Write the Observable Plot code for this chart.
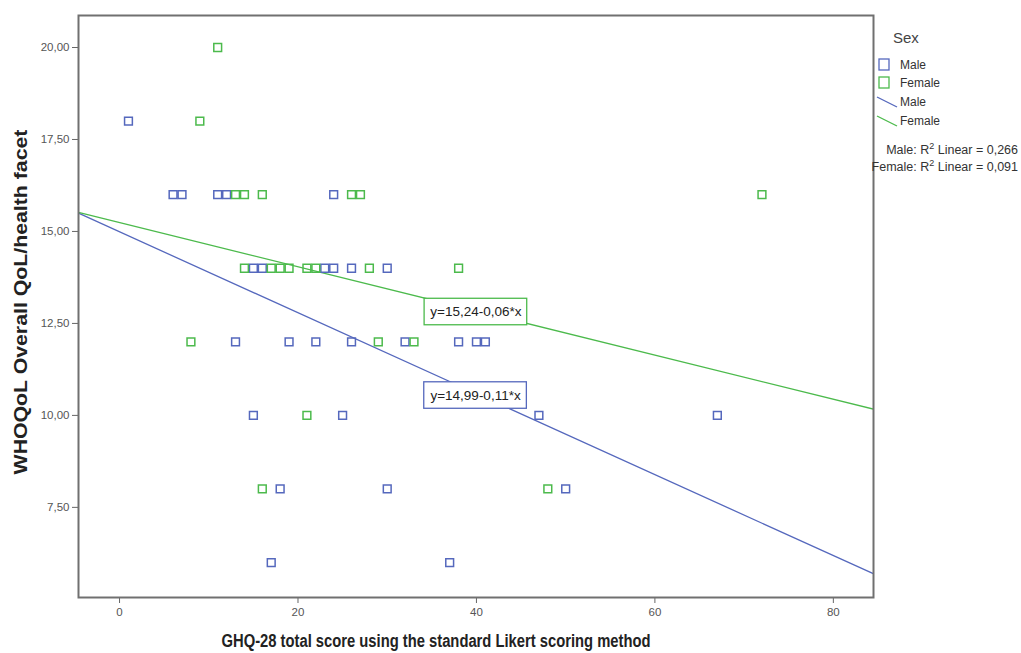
<!DOCTYPE html>
<html>
<head>
<meta charset="utf-8">
<script src="https://cdn.jsdelivr.net/npm/d3@7"></script>
<script src="https://cdn.jsdelivr.net/npm/@observablehq/plot@0.6"></script>
<style>
  html, body { margin: 0; padding: 0; background: #fff; }
  #wrap { position: relative; width: 1021px; height: 653px; font-family: "Liberation Sans", Arial, sans-serif; overflow: hidden; }
  #chart { position: absolute; left: 0; top: 0; }
  #legend { position: absolute; left: 870px; top: 0; width: 151px; height: 200px; color: #333; }
  .lt { position: absolute; font-size: 12px; white-space: nowrap; }
  .axt { position: absolute; font-weight: bold; color: #222; white-space: nowrap; line-height: 1; }
</style>
</head>
<body>
<div id="wrap">
  <div id="chart"></div>
  <div id="legend"></div>
  <div class="axt" id="ylab" style="left:20px; top:302px; font-size:19px; transform: translate(-50%,-50%) rotate(-90deg) scaleX(1.12);"></div>
  <div class="axt" id="xlab" style="left:436px; top:641px; font-size:18px; transform: translate(-50%,-50%) scaleX(0.82);"></div>
</div>
<script>
// ---- data ----
const maleX   = [1, 6, 7, 11, 12, 24, 15, 16, 23, 24, 26, 30, 13, 19, 22, 26, 32, 38, 40, 41, 15, 25, 47, 67, 18, 30, 50, 17, 37];
const maleY   = [18, 16, 16, 16, 16, 16, 14, 14, 14, 14, 14, 14, 12, 12, 12, 12, 12, 12, 12, 12, 10, 10, 10, 10, 8, 8, 8, 6, 6];
const femaleX = [11, 9, 13, 14, 16, 26, 27, 72, 14, 17, 18, 19, 21, 22, 28, 38, 8, 29, 33, 21, 16, 48];
const femaleY = [20, 18, 16, 16, 16, 16, 16, 16, 14, 14, 14, 14, 14, 14, 14, 14, 12, 12, 12, 10, 8, 8];
const sexes = ["Male", "Female"];
const intercepts = [14.99, 15.24];
const slopes = [-0.11, -0.06];
const r2 = ["0,266", "0,091"];
const eqText = ["y=14,99-0,11*x", "y=15,24-0,06*x"];
const eqX = [39.9, 39.94];
const eqY = [10.54, 12.81];
const xTicks = [0, 20, 40, 60, 80];
const yTicks = [7.5, 10, 12.5, 15, 17.5, 20];
const xDomain = [-4.6, 84.5];
const yDomain = [5.05, 20.87];
const yTitle = "WHOQoL Overall QoL/health facet";
const xTitle = "GHQ-28 total score using the standard Likert scoring method";

const colors = {Male: "#5568bd", Female: "#4cba4c"};

// ---- build tables ----
const points = [
  ...maleX.map((x, i) => ({sex: "Male", x, y: maleY[i]})),
  ...femaleX.map((x, i) => ({sex: "Female", x, y: femaleY[i]}))
];
const fitLines = sexes.flatMap((s, i) => xDomain.map(x => ({sex: s, x, y: intercepts[i] + slopes[i] * x})));
const eqLabels = sexes.map((s, i) => ({sex: s, x: eqX[i], y: eqY[i], text: eqText[i]}));

const fmt = d => d.toFixed(2).replace(".", ",");
const font = '"Liberation Sans", Arial, sans-serif';

const plot = Plot.plot({
  width: 880,
  height: 653,
  marginLeft: 78,
  marginRight: 7,
  marginTop: 15,
  marginBottom: 56,
  style: {fontFamily: font, fontSize: "11px", color: "#444", background: "#fff"},
  x: {domain: xDomain, ticks: xTicks, label: null, tickSize: 6},
  y: {domain: yDomain, ticks: yTicks, label: null, tickFormat: fmt, tickSize: 6},
  color: {domain: sexes, range: [colors.Male, colors.Female]},
  marks: [
    Plot.axisX({ticks: xTicks, tickSize: 6, tickPadding: 4, stroke: "#666", fill: "#555", fontSize: 11.5}),
    Plot.axisY({ticks: yTicks, tickSize: 6, tickPadding: 3, tickFormat: fmt, stroke: "#666", fill: "#555", fontSize: 11.5}),
    Plot.line(fitLines, {x: "x", y: "y", z: "sex", stroke: "sex", strokeWidth: 1.3, clip: true}),
    Plot.dot(points, {x: "x", y: "y", stroke: "sex", symbol: "square", r: 4.4, strokeWidth: 1.5, fill: "white", fillOpacity: 0}),
    Plot.rect(eqLabels, {x1: d => d.x - 5.75, x2: d => d.x + 5.75, y1: d => d.y - 0.36, y2: d => d.y + 0.36, fill: "white", stroke: "sex", strokeWidth: 1.3}),
    Plot.text(eqLabels, {x: "x", y: "y", text: "text", fill: "#222", fontSize: 13.5}),
    Plot.frame({stroke: "#707070", strokeWidth: 2})
  ]
});
document.getElementById("chart").appendChild(plot);
document.getElementById("ylab").textContent = yTitle;
document.getElementById("xlab").textContent = xTitle;

// ---- legend ----
const lg = document.getElementById("legend");
const ns = "http://www.w3.org/2000/svg";
const title = document.createElement("div");
title.className = "lt";
title.style.cssText = "left:23px; top:29px; font-size:15px; color:#444;";
title.textContent = "Sex";
lg.appendChild(title);

const sw = document.createElementNS(ns, "svg");
sw.setAttribute("width", 151);
sw.setAttribute("height", 200);
sw.style.position = "absolute";
sw.style.left = "0px";
sw.style.top = "0px";
lg.appendChild(sw);
sexes.forEach((s, i) => {
  const r = document.createElementNS(ns, "rect");
  r.setAttribute("x", 9); r.setAttribute("y", 59 + i * 18);
  r.setAttribute("width", 10); r.setAttribute("height", 11);
  r.setAttribute("fill", "none"); r.setAttribute("stroke", colors[s]); r.setAttribute("stroke-width", 1.3);
  sw.appendChild(r);
  const t = document.createElement("div");
  t.className = "lt";
  t.style.cssText = `left:30px; top:${58 + i * 18}px;`;
  t.textContent = s;
  lg.appendChild(t);
});
sexes.forEach((s, i) => {
  const l = document.createElementNS(ns, "line");
  l.setAttribute("x1", 7); l.setAttribute("y1", 97 + i * 19);
  l.setAttribute("x2", 27); l.setAttribute("y2", 107 + i * 19);
  l.setAttribute("stroke", colors[s]); l.setAttribute("stroke-width", 1.3);
  sw.appendChild(l);
  const t = document.createElement("div");
  t.className = "lt";
  t.style.cssText = `left:30px; top:${95 + i * 19}px;`;
  t.textContent = s;
  lg.appendChild(t);
});
sexes.forEach((s, i) => {
  const t = document.createElement("div");
  t.className = "lt";
  t.style.cssText = `right:3px; top:${141 + i * 17}px; font-size:12.5px;`;
  t.innerHTML = `${s}: R<sup style="font-size:9px">2</sup> Linear = ${r2[i]}`;
  lg.appendChild(t);
});
</script>
</body>
</html>
